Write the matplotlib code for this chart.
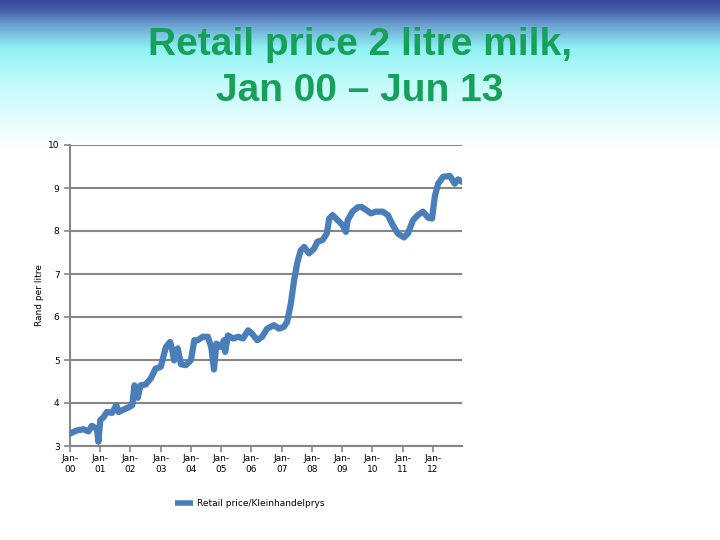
import numpy as np
import matplotlib
matplotlib.use('Agg')
import matplotlib.pyplot as plt
from matplotlib.colors import LinearSegmentedColormap

# years since Jan 2000 and retail price (rand per litre)
years = [0.00, 0.22, 0.44, 0.61, 0.72, 0.89, 0.94, 1.00, 1.11, 1.22, 1.39, 1.53,
         1.61, 1.78, 1.94, 2.06, 2.13, 2.24, 2.33, 2.50, 2.67, 2.83, 3.00, 3.17,
         3.31, 3.39, 3.44, 3.56, 3.67, 3.83, 4.00, 4.11, 4.22, 4.39, 4.56, 4.67,
         4.76, 4.84, 5.00, 5.09, 5.13, 5.22, 5.39, 5.56, 5.72, 5.89, 6.02, 6.19,
         6.35, 6.52, 6.74, 6.91, 7.07, 7.18, 7.30, 7.41, 7.52, 7.63, 7.74, 7.90,
         8.07, 8.18, 8.35, 8.49, 8.57, 8.68, 8.85, 9.01, 9.12, 9.18, 9.34, 9.51,
         9.64, 9.79, 9.95, 10.12, 10.34, 10.51, 10.67, 10.84, 11.04, 11.17, 11.34,
         11.50, 11.67, 11.84, 11.97, 12.06, 12.17, 12.33, 12.56, 12.72, 12.83, 12.97]
price = [3.29, 3.36, 3.39, 3.34, 3.47, 3.40, 3.10, 3.60, 3.67, 3.79, 3.77, 3.95,
         3.79, 3.85, 3.90, 3.95, 4.41, 4.12, 4.41, 4.43, 4.57, 4.80, 4.84, 5.30,
         5.42, 5.20, 4.99, 5.27, 4.90, 4.88, 5.00, 5.46, 5.46, 5.54, 5.54, 5.30,
         4.78, 5.38, 5.30, 5.46, 5.19, 5.57, 5.50, 5.54, 5.50, 5.69, 5.61, 5.46,
         5.54, 5.73, 5.81, 5.73, 5.77, 5.89, 6.31, 6.86, 7.28, 7.55, 7.63, 7.48,
         7.59, 7.75, 7.79, 7.94, 8.29, 8.37, 8.25, 8.14, 7.98, 8.25, 8.45, 8.55,
         8.56, 8.49, 8.41, 8.45, 8.45, 8.37, 8.14, 7.94, 7.85, 7.94, 8.25,
         8.37, 8.45, 8.31, 8.29, 8.80, 9.10, 9.26, 9.28, 9.10, 9.20, 9.14]
tick_labels = ['Jan-\n%02d' % y for y in range(13)]

fig = plt.figure(figsize=(7.2, 5.4), dpi=100)

# slide background: blue -> cyan -> white band at the top
bg = fig.add_axes([0, 0, 1, 1], zorder=-10)
bg.axis('off')
cmap_bg = LinearSegmentedColormap.from_list(
    'slide', [(0.0, '#3a469a'), (0.08, '#4a68ae'), (0.17, '#6fa6d4'),
              (0.32, '#8ff2f4'), (0.55, '#c2fafa'), (0.85, '#eafdfe'),
              (1.0, '#ffffff')])
grad = np.ones((540, 1))
grad[:150, 0] = np.linspace(0, 1, 150)
bg.imshow(grad, aspect='auto', cmap=cmap_bg, extent=[0, 1, 0, 1], vmin=0, vmax=1)
bg.set_xlim(0, 1)
bg.set_ylim(0, 1)

fig.text(0.5, 1-68/540, 'Retail price 2 litre milk,\nJan 00 \u2013 Jun 13',
         ha='center', va='center', fontsize=28, fontweight='bold',
         family=['Liberation Sans', 'DejaVu Sans'],
         color='#17a05a', linespacing=1.35)

ax = fig.add_axes([70/720, 1-446/540, 392/720, 301/540])
ax.set_facecolor('white')
ax.plot(years, price, color='#4a7ebb', lw=4.5, solid_joinstyle='round',
        solid_capstyle='round', label='Retail price/Kleinhandelprys', zorder=3)

ax.set_xlim(0, 12.96)
ax.set_ylim(3, 10)
ax.set_yticks(range(3, 11))
ax.set_xticks(range(13))
ax.set_xticklabels(tick_labels)
ax.grid(axis='y', color='#868686', lw=1.5, zorder=1)
for s in ['top', 'right']:
    ax.spines[s].set_visible(False)
for s in ['left', 'bottom']:
    ax.spines[s].set_color('#868686')
    ax.spines[s].set_linewidth(1.5)
ax.tick_params(axis='both', colors='#868686', labelcolor='black', labelsize=6.5,
               length=4, width=1.2, direction='out')
ax.tick_params(axis='x', pad=2)
ax.set_ylabel('Rand per litre', fontsize=6.5, labelpad=3)

leg = fig.legend(loc='center', bbox_to_anchor=(250/720, 1-504/540), frameon=False,
                 fontsize=6.5, handlelength=2.0, handletextpad=0.4)
for h in leg.get_lines():
    h.set_linewidth(4)
    h.set_solid_capstyle('butt')

plt.savefig('out.png', dpi=100)
